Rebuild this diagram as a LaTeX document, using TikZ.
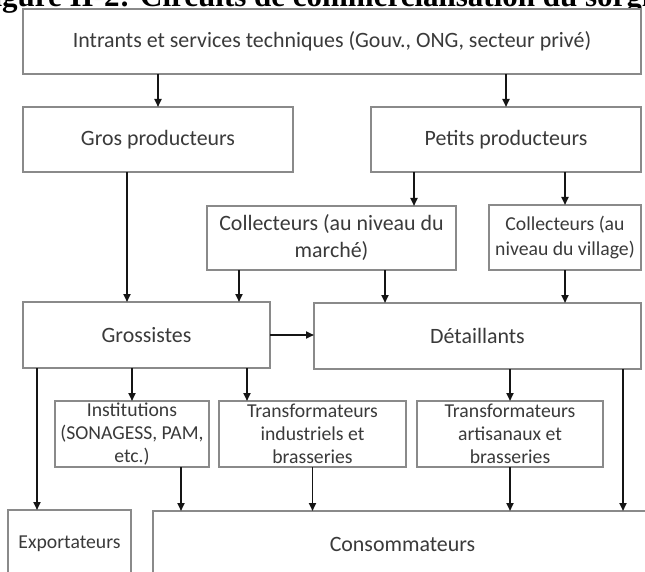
\documentclass[tikz,border=0pt]{standalone}
\usepackage{fontspec}
\setmainfont{Carlito}
\newfontfamily\titlefont{Liberation Serif}
\usetikzlibrary{arrows.meta}
\definecolor{boxline}{HTML}{8A8A8A}
\definecolor{txt}{HTML}{3A3A3A}
\definecolor{arrcol}{HTML}{151515}
\tikzset{
  box/.style={draw=boxline, line width=1.3pt, fill=white, inner sep=0pt, outer sep=0pt,
    align=center, text=txt},
  bigtxt/.style={font=\fontsize{21.9}{27}\selectfont},
  smalltxt/.style={font=\fontsize{19.7}{23}\selectfont},
  arr/.style={draw=arrcol, line width=1.9pt, -{Triangle[length=8pt,width=7pt]}},
}
\begin{document}
\begin{tikzpicture}[x=1pt,y=-1pt]
\useasboundingbox (0,0) rectangle (645,572);
\node[anchor=base west, font=\titlefont\bfseries\fontsize{31}{31}\selectfont, inner sep=0pt] (title) at (-25.6,6.5) {Figure II-2: Circuits de commercialisation du sorgho};
% boxes
\node[box, bigtxt, minimum width=618pt, minimum height=65pt] (top) at (332,41.5) {Intrants et services techniques (Gouv., ONG, secteur privé)};
\node[box, bigtxt, minimum width=270pt, minimum height=65pt] (gros) at (158,139.5) {Gros producteurs};
\node[box, bigtxt, minimum width=270pt, minimum height=65pt] (petits) at (506,139.5) {Petits producteurs};
\node[box, bigtxt, minimum width=249pt, minimum height=64pt] (colm) at (331.5,238) {Collecteurs (au niveau du\\marché)};
\node[box, font=\fontsize{19.7}{25}\selectfont, minimum width=152pt, minimum height=65pt] (colv) at (565,237.5) {Collecteurs (au\\niveau du village)};
\node[box, bigtxt, minimum width=247pt, minimum height=66pt] (gross) at (146.5,335) {Grossistes};
\node[box, bigtxt, minimum width=327pt, minimum height=66pt] (detail) at (477.5,336) {Détaillants};
\node[box, smalltxt, minimum width=154pt, minimum height=66pt] (inst) at (132,434) {Institutions\\(SONAGESS, PAM,\\etc.)};
\node[box, smalltxt, minimum width=187pt, minimum height=66pt] (ti) at (312.5,434) {Transformateurs\\industriels et\\brasseries};
\node[box, smalltxt, minimum width=186pt, minimum height=66pt] (ta) at (510,434) {Transformateurs\\artisanaux et\\brasseries};
\node[box, smalltxt, minimum width=123pt, minimum height=68pt] (export) at (69.5,544) {Exportateurs};
\node[box, bigtxt, minimum width=499pt, minimum height=67pt] (conso) at (402.5,544.5) {Consommateurs};
% x positions of connectors
\coordinate (xa) at (127,0);
\coordinate (xb) at (414,0);
\coordinate (xc) at (239,0);
\coordinate (xd) at (385,0);
\coordinate (xe) at (37,0);
\coordinate (xf) at (247,0);
\coordinate (xg) at (623,0);
\coordinate (xh) at (181,0);
% connectors
\draw[arr] (top.south -| gros.north) -- (gros.north);
\draw[arr] (top.south -| petits.north) -- (petits.north);
\draw[arr] (gros.south -| xa) -- (gross.north -| xa);
\draw[arr] (petits.south -| xb) -- (colm.north -| xb);
\draw[arr] (petits.south -| colv.north) -- (colv.north);
\draw[arr] (colm.south -| xc) -- (gross.north -| xc);
\draw[arr] (colm.south -| xd) -- (detail.north -| xd);
\draw[arr] (colv.south) -- (detail.north -| colv.south);
\draw[arr] (gross.east) -- (gross.east -| detail.west);
\draw[arr] (gross.south -| xe) -- (export.north -| xe);
\draw[arr] (gross.south -| inst.north) -- (inst.north);
\draw[arr] (gross.south -| xf) -- (ti.north -| xf);
\draw[arr] (detail.south -| ta.north) -- (ta.north);
\draw[arr] (detail.south -| xg) -- (conso.north -| xg);
\draw[arr] (inst.south -| xh) -- (conso.north -| xh);
\draw[arr] (ti.south) -- (conso.north -| ti.south);
\draw[arr] (ta.south) -- (conso.north -| ta.south);
\end{tikzpicture}
\end{document}
